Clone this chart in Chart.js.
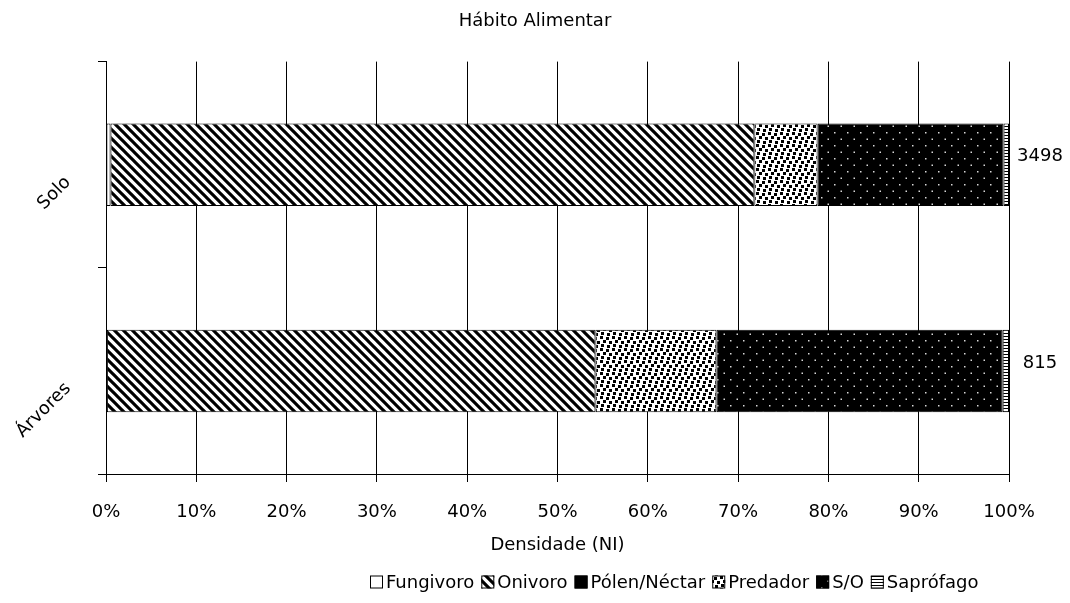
<!DOCTYPE html>
<html><head><meta charset="utf-8">
<script src="https://cdn.jsdelivr.net/npm/chart.js@4/dist/chart.umd.min.js"></script>
<style>html,body{margin:0;padding:0;background:#fff}#wrap{width:1070px;height:603px}</style>
</head><body><div id="wrap"><canvas id="c" width="1070" height="603"></canvas></div>
<script>
// ---- data (percent of density NI) ----
const categories = ['Solo', 'Árvores'];
const fungivoro   = [0.5, 0.1];
const onivoro     = [71.3, 54.1];
const polenNectar = [0, 0];
const predador    = [7.0, 13.4];
const semOrdem    = [20.6, 31.7];
const saprofago   = [0.6, 0.7];
const totals      = [3498, 815];
const seriesNames = ['Fungivoro', 'Onivoro', 'Pólen/Néctar', 'Predador', 'S/O', 'Saprófago'];
const xTickStep = 10;

const FONT = 'DejaVu Sans';

function tile(w, h, draw) {
  const c = document.createElement('canvas'); c.width = w; c.height = h;
  const g = c.getContext('2d'); draw(g, w, h);
  return document.getElementById('c').getContext('2d').createPattern(c, 'repeat');
}
const patWhite = '#ffffff';
const patStripes = tile(9, 9, (g, w, h) => {
  g.fillStyle = '#fff'; g.fillRect(0, 0, w, h);
  g.strokeStyle = '#000'; g.lineWidth = 3.1; g.lineCap = 'square';
  for (let k = -1; k <= 1; k++) { g.beginPath(); g.moveTo(k * w - 1, -1); g.lineTo(k * w + w + 1, h + 1); g.stroke(); }
});
const patBlack = '#000000';
const patConfetti = tile(12, 12, (g, w, h) => {
  g.fillStyle = '#fff'; g.fillRect(0, 0, w, h);
  g.fillStyle = '#000';
  [[0,0],[6,1],[3,4],[9,5],[1,8],[7,9]].forEach(p => g.fillRect(p[0], p[1], 3, 3));
});
const patDots = tile(13, 13, (g, w, h) => {
  g.fillStyle = '#000'; g.fillRect(0, 0, w, h);
  g.fillStyle = '#d8d8d8';
  g.fillRect(2, 2, 1.5, 1.5); g.fillRect(8.5, 8.5, 1.5, 1.5);
});
const patHLines = tile(3, 3, (g, w, h) => {
  g.fillStyle = '#fff'; g.fillRect(0, 0, w, h);
  g.fillStyle = '#000'; g.fillRect(0, 0, w, 1);
});

const seriesValues = [fungivoro, onivoro, polenNectar, predador, semOrdem, saprofago];
const fills = [patWhite, patStripes, patBlack, patConfetti, patDots, patHLines];

const datasets = seriesNames.map((name, i) => ({
  label: name,
  data: seriesValues[i],
  backgroundColor: fills[i],
  borderColor: '#000',
  borderWidth: 1,
  borderSkipped: false,
  barPercentage: 0.4,
  categoryPercentage: 1.0
}));

const layoutTweak = {
  id: 'layoutTweak',
  afterLayout(chart) {
    // centre the chart title on the whole canvas
    if (chart.titleBlock) { chart.titleBlock.left = 0; chart.titleBlock.right = chart.width; }
  }
};

// legend drawn from the chart's datasets, Excel-like compact spacing
const legendPlugin = {
  id: 'excelLegend',
  afterDraw(chart) {
    const ctx = chart.ctx;
    ctx.save();
    ctx.font = '18px "' + FONT + '"';
    ctx.textAlign = 'left'; ctx.textBaseline = 'middle';
    let x = 370; const cy = 582, box = 13;
    chart.data.datasets.forEach(ds => {
      ctx.fillStyle = ds.backgroundColor;
      ctx.fillRect(x, cy - box / 2, box, box);
      ctx.strokeStyle = '#000'; ctx.lineWidth = 1;
      ctx.strokeRect(x + 0.5, cy - box / 2 + 0.5, box - 1, box - 1);
      ctx.fillStyle = '#000';
      ctx.fillText(ds.label, x + box + 3, cy + 1);
      x += box + 3 + ctx.measureText(ds.label).width + 7;
    });
    ctx.restore();
  }
};

const yLabelPlugin = {
  id: 'yLabels',
  afterDraw(chart) {
    const ctx = chart.ctx, y = chart.scales.y, x = chart.scales.x;
    ctx.save();
    ctx.font = '18px "' + FONT + '"';
    ctx.fillStyle = '#000';
    categories.forEach((lab, i) => {
      const py = y.getPixelForValue(i);
      ctx.save();
      ctx.translate(x.left - 38, py + 15);
      ctx.rotate(-Math.PI / 4);
      ctx.textAlign = 'right'; ctx.textBaseline = 'middle';
      ctx.fillText(lab, 0, 0);
      ctx.restore();
    });
    // totals at right of bars
    ctx.textAlign = 'center'; ctx.textBaseline = 'middle';
    totals.forEach((t, i) => {
      const py = y.getPixelForValue(i);
      ctx.fillText(String(t), x.right + 31, py - 8);
    });
    ctx.restore();
  }
};

new Chart(document.getElementById('c'), {
  type: 'bar',
  data: { labels: categories, datasets },
  plugins: [layoutTweak, legendPlugin, yLabelPlugin],
  options: {
    indexAxis: 'y',
    responsive: false,
    animation: false,
    devicePixelRatio: 1,
    layout: { padding: { left: 0, right: 61, top: 0, bottom: 31 } },
    plugins: {
      title: { display: true, text: 'Hábito Alimentar', color: '#000',
               font: { family: FONT, size: 18, weight: 'normal' }, padding: { top: 11, bottom: 29 } },
      legend: { display: false },
      tooltip: { enabled: false }
    },
    scales: {
      x: {
        type: 'linear', stacked: true, min: 0, max: 100,
        ticks: { stepSize: xTickStep, callback: v => v + '%', color: '#000', padding: 20,
                 font: { family: FONT, size: 18 } },
        grid: { color: '#000', lineWidth: 1, tickLength: 8, drawTicks: true },
        border: { display: true, color: '#000' },
        title: { display: true, text: 'Densidade (NI)', color: '#000', font: { family: FONT, size: 18 },
                 padding: { top: 4, bottom: 16 } },
        afterFit: s => { s.height = 98; }
      },
      y: {
        type: 'category', stacked: true,
        ticks: { display: false },
        grid: { drawOnChartArea: false, color: '#000', tickLength: 8, offset: true },
        border: { display: true, color: '#000' },
        afterFit: s => { s.width = 106; }
      }
    }
  }
});
</script></body></html>
